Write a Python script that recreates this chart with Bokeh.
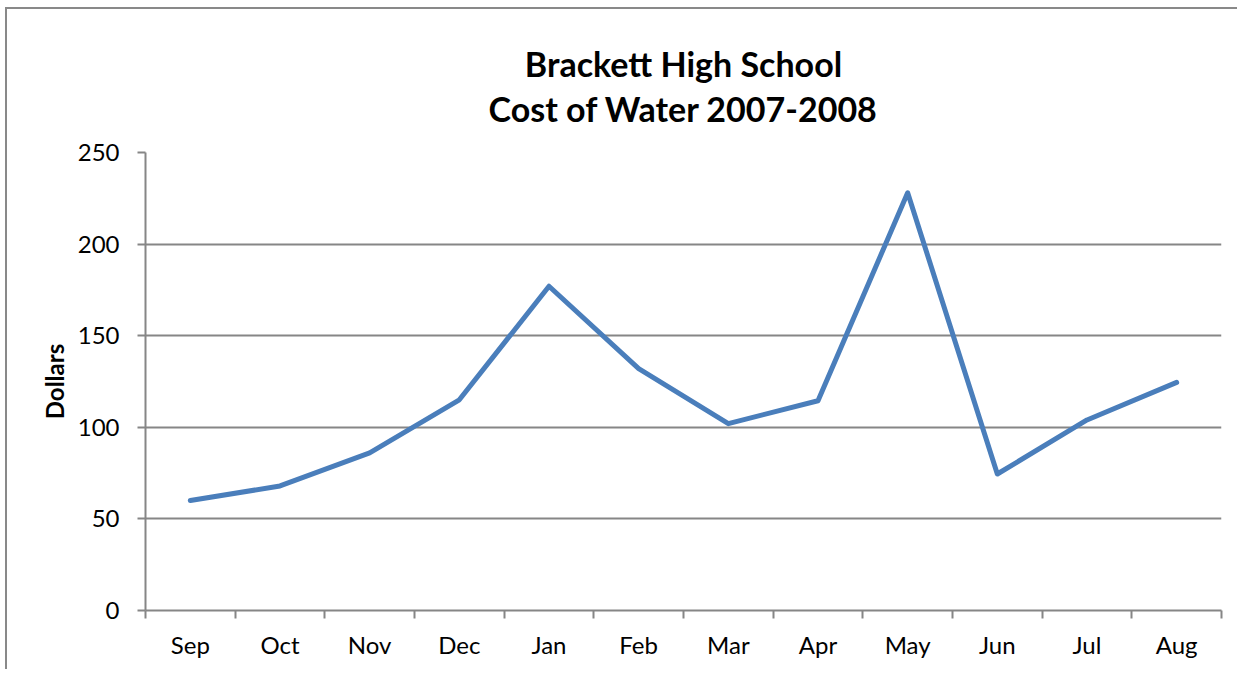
from bokeh.plotting import figure
from bokeh.models import FixedTicker, Range1d, Title
from bokeh.embed import file_html
from bokeh.resources import INLINE

months = ["Sep", "Oct", "Nov", "Dec", "Jan", "Feb", "Mar", "Apr", "May", "Jun", "Jul", "Aug"]
cost = [60, 68, 86, 115, 177, 132, 102, 114.5, 228, 74.5, 104, 124.5]
y_ticks = [0, 50, 100, 150, 200, 250]
title_line1 = "Brackett High School"
title_line2 = "Cost of Water 2007-2008"

FONT = "Lato"
GRAY = "#868686"

x = [i + 0.5 for i in range(len(months))]

p = figure(width=1232, height=662, output_backend="svg", toolbar_location=None,
           x_range=Range1d(0, len(months)), y_range=Range1d(0, 250),
           min_border_left=138, min_border_right=18, min_border_top=143, min_border_bottom=61)

p.outline_line_color = None
p.background_fill_color = "white"
p.border_fill_color = "white"

p.add_layout(Title(text=title_line1 + "\n" + title_line2, align="center", text_align="center",
                   text_font=FONT, text_font_size="34px", text_font_style="bold",
                   text_color="black", text_line_height=1.1, standoff=47), "above")

p.line(x, cost, line_color="#4A7EBB", line_width=5, line_join="round", line_cap="round")

# y axis
p.yaxis.ticker = FixedTicker(ticks=y_ticks)
p.yaxis.axis_line_color = GRAY
p.yaxis.axis_line_width = 2
p.yaxis.major_tick_line_color = GRAY
p.yaxis.major_tick_line_width = 2
p.yaxis.major_tick_out = 8
p.yaxis.major_tick_in = 0
p.yaxis.minor_tick_line_color = None
p.yaxis.major_label_text_font = FONT
p.yaxis.major_label_text_font_size = "24px"
p.yaxis.major_label_text_color = "black"
p.yaxis.major_label_standoff = 18
p.yaxis.axis_label = "Dollars"
p.yaxis.axis_label_text_font = FONT
p.yaxis.axis_label_text_font_size = "24px"
p.yaxis.axis_label_text_font_style = "bold"
p.yaxis.axis_label_text_color = "black"
p.yaxis.axis_label_standoff = 6

p.ygrid.ticker = FixedTicker(ticks=y_ticks)
p.ygrid.grid_line_color = GRAY
p.ygrid.grid_line_width = 2
p.xgrid.visible = False

# x axis: labels at category centres, ticks at boundaries
p.xaxis.ticker = FixedTicker(ticks=x, minor_ticks=list(range(len(months) + 1)))
p.xaxis.major_label_overrides = {xi: m for xi, m in zip(x, months)}
p.xaxis.axis_line_color = GRAY
p.xaxis.axis_line_width = 2
p.xaxis.major_tick_line_color = None
p.xaxis.major_tick_out = 0
p.xaxis.major_tick_in = 0
p.xaxis.minor_tick_line_color = GRAY
p.xaxis.minor_tick_line_width = 2
p.xaxis.minor_tick_out = 8
p.xaxis.minor_tick_in = 0
p.xaxis.major_label_text_font = FONT
p.xaxis.major_label_text_font_size = "24px"
p.xaxis.major_label_text_color = "black"
p.xaxis.major_label_standoff = 11

p.styles = {"border-left": "2px solid #898989", "border-top": "2px solid #898989",
            "margin-left": "5px", "margin-top": "7px"}

open("out.html", "w").write(file_html(p, INLINE))
